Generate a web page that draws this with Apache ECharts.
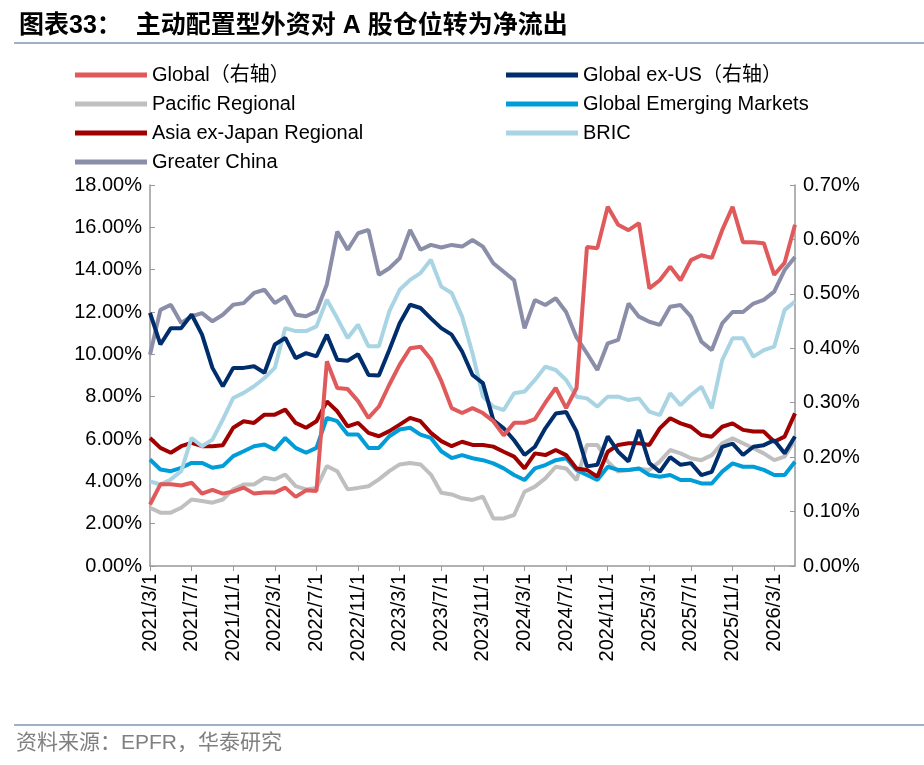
<!DOCTYPE html>
<html>
<head>
<meta charset="utf-8">
<script src="https://cdn.jsdelivr.net/npm/echarts@6/dist/echarts.min.js"></script>
<style>
  html, body { margin: 0; padding: 0; background: #fff; }
  #main { width: 924px; height: 765px; }
</style>
</head>
<body>
<div id="main"></div>
<script>
// 月度日期：2021/3/1 ~ 2026/5/1
var dates = [];
(function () {
  var y = 2021, m = 3;
  for (var i = 0; i < 63; i++) {
    dates.push(y + '/' + m + '/1');
    m++;
    if (m > 12) { m = 1; y++; }
  }
})();

// 右轴（%）
var globalR = [0.113,0.15,0.15,0.148,0.153,0.133,0.14,0.133,0.137,0.144,0.133,0.135,0.135,0.144,0.127,0.139,0.138,0.376,0.327,0.325,0.303,0.272,0.293,0.333,0.37,0.40,0.403,0.38,0.34,0.29,
  0.281,0.29,0.281,0.266,0.24,0.263,0.263,0.27,0.30,0.327,0.29,0.327,0.586,0.584,0.66,0.627,0.617,0.63,0.51,0.525,0.55,0.525,0.562,0.571,0.566,0.617,0.66,0.595,0.595,0.593,0.535,0.557,0.627];
var globalExUS = [0.465,0.407,0.437,0.437,0.462,0.425,0.364,0.33,0.364,0.364,0.367,0.355,0.407,0.419,0.382,0.391,0.385,0.425,0.379,0.377,0.389,0.351,0.35,0.397,0.446,0.48,0.474,0.455,0.437,0.425,
  0.394,0.351,0.336,0.268,0.253,0.231,0.204,0.219,0.253,0.28,0.283,0.247,0.183,0.186,0.238,0.21,0.192,0.25,0.189,0.173,0.2,0.186,0.189,0.167,0.173,0.219,0.225,0.204,0.219,0.222,0.231,0.207,0.238];

// 左轴（%）
var pacific = [2.75,2.52,2.52,2.75,3.14,3.07,2.99,3.14,3.62,3.85,3.85,4.17,4.09,4.32,3.77,3.62,3.69,4.72,4.48,3.62,3.69,3.77,4.09,4.48,4.8,4.87,4.8,4.32,3.46,3.38,
  3.2,3.12,3.28,2.25,2.25,2.41,3.51,3.75,4.14,4.69,4.61,4.06,5.72,5.72,4.93,4.46,4.54,4.6,4.54,4.93,5.48,5.32,5.09,5.0,5.24,5.8,6.03,5.8,5.56,5.32,5.0,5.17,5.95];
var gem = [5.03,4.56,4.48,4.64,4.87,4.87,4.64,4.72,5.19,5.42,5.66,5.74,5.5,6.05,5.58,5.35,5.58,7.0,6.84,6.21,6.21,5.58,5.58,6.13,6.45,6.53,6.21,6.05,5.42,5.1,
  5.24,5.09,5.0,4.85,4.61,4.3,4.06,4.61,4.77,5.0,5.09,4.54,4.3,4.06,4.69,4.54,4.54,4.61,4.3,4.22,4.3,4.06,4.06,3.9,3.9,4.46,4.85,4.69,4.69,4.54,4.3,4.3,4.93];
var asiaExJp = [6.05,5.58,5.35,5.66,5.82,5.66,5.66,5.71,6.53,6.84,6.76,7.15,7.15,7.39,6.76,6.53,6.84,7.78,7.31,6.6,6.76,6.29,6.13,6.37,6.68,7.0,6.84,6.29,5.9,5.66,
  5.87,5.72,5.72,5.64,5.4,5.17,4.61,5.32,5.24,5.48,5.24,4.61,4.54,4.22,5.4,5.72,5.8,5.8,5.72,6.5,6.98,6.74,6.58,6.19,6.11,6.58,6.74,6.43,6.35,6.35,5.87,6.11,7.21];
var bric = [4.0,3.85,4.09,4.48,6.05,5.66,5.97,6.92,7.94,8.18,8.49,8.88,9.36,11.24,11.1,11.1,11.32,12.58,11.7,10.77,11.4,10.38,10.38,12.03,13.05,13.52,13.84,14.47,13.2,12.9,
  11.78,10.05,8.0,7.53,7.37,8.16,8.24,8.79,9.42,9.26,8.79,8.0,7.92,7.53,8.0,8.0,7.84,7.92,7.29,7.13,8.16,7.6,8.08,8.47,7.45,9.73,10.76,10.76,9.89,10.2,10.36,12.1,12.49];
var greaterChina = [9.98,12.1,12.34,11.48,11.8,11.95,11.56,11.87,12.34,12.42,12.9,13.05,12.42,12.74,11.87,11.8,12.03,13.3,15.8,14.94,15.72,15.88,13.76,14.07,14.54,15.88,14.94,15.17,15.05,15.17,
  15.09,15.4,15.09,14.3,13.9,13.5,11.23,12.57,12.33,12.65,12.0,10.8,10.05,9.26,10.52,10.68,12.4,11.78,11.54,11.39,12.25,12.33,11.78,10.6,10.2,11.46,12.0,12.0,12.4,12.57,12.96,13.98,14.6];

;(function () {
  var myChart = echarts.init(document.getElementById('main'));
  var font = 'Arial, "Liberation Sans", "Noto Sans CJK SC", sans-serif';

  function line(name, data, color, yIdx) {
    return {
      name: name, type: 'line', data: data, yAxisIndex: yIdx,
      symbol: 'none', lineStyle: { width: 4, color: color }, itemStyle: { color: color }
    };
  }

  var legendBase = {
    orient: 'vertical', itemWidth: 72, itemHeight: 5, itemGap: 9, icon: 'rect',
    textStyle: { fontSize: 20, color: '#000', fontFamily: font }
  };

  var option = {
    animation: false,
    title: {
      text: '图表33：  主动配置型外资对 A 股仓位转为净流出',
      left: 14, top: 9,
      textStyle: { fontSize: 25, fontWeight: 'bold', color: '#000', fontFamily: font }
    },
    graphic: [
      { type: 'line', shape: { x1: 14, y1: 43, x2: 924, y2: 43 }, style: { stroke: '#9fb0c8', lineWidth: 2 } },
      { type: 'line', shape: { x1: 14, y1: 725, x2: 924, y2: 725 }, style: { stroke: '#9fb0c8', lineWidth: 2 } },
      { type: 'text', left: 16, top: 733, style: { text: '资料来源：EPFR，华泰研究', fontSize: 21, fill: '#808080', fontFamily: font } }
    ],
    legend: [
      Object.assign({ left: 70, top: 60, data: ['Global（右轴）', 'Pacific Regional', 'Asia ex-Japan Regional', 'Greater China'] }, legendBase),
      Object.assign({ left: 501, top: 60, data: ['Global ex-US（右轴）', 'Global Emerging Markets', 'BRIC'] }, legendBase)
    ],
    grid: { left: 150, right: 129, top: 185, bottom: 199 },
    xAxis: {
      type: 'category', data: dates, boundaryGap: false,
      axisLine: { lineStyle: { color: '#999', width: 1.5 } },
      axisTick: { alignWithLabel: true, interval: 3, length: 5, lineStyle: { color: '#999' } },
      axisLabel: { interval: 3, rotate: 90, fontSize: 20, color: '#000', fontFamily: font, margin: 8 }
    },
    yAxis: [
      {
        type: 'value', min: 0, max: 18, interval: 2,
        splitLine: { show: false },
        axisLine: { show: true, lineStyle: { color: '#999', width: 1.5 } },
        axisTick: { show: true, inside: true, length: 5, lineStyle: { color: '#999' } },
        axisLabel: { fontSize: 20, color: '#000', fontFamily: font, formatter: function (v) { return v.toFixed(2) + '%'; } }
      },
      {
        type: 'value', min: 0, max: 0.7, interval: 0.1,
        splitLine: { show: false },
        axisLine: { show: true, lineStyle: { color: '#999', width: 1.5 } },
        axisTick: { show: true, inside: true, length: 5, lineStyle: { color: '#999' } },
        axisLabel: { fontSize: 20, color: '#000', fontFamily: font, formatter: function (v) { return v.toFixed(2) + '%'; } }
      }
    ],
    series: [
      line('Pacific Regional', pacific, '#BFBFBF', 0),
      line('Global Emerging Markets', gem, '#009DD9', 0),
      line('Asia ex-Japan Regional', asiaExJp, '#A00000', 0),
      line('BRIC', bric, '#A9D4E4', 0),
      line('Greater China', greaterChina, '#8A8EA8', 0),
      line('Global ex-US（右轴）', globalExUS, '#002E6D', 1),
      line('Global（右轴）', globalR, '#E05A5C', 1)
    ]
  };

  myChart.setOption(option);
  window.addEventListener('resize', function () { myChart.resize(); });
})();
</script>
</body>
</html>
